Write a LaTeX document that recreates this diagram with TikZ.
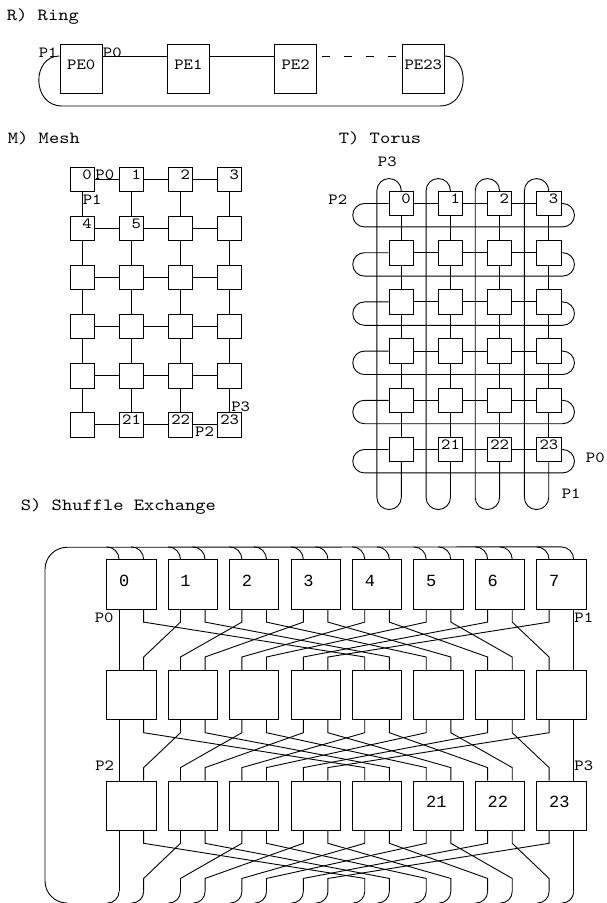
\documentclass[tikz,border=0pt]{standalone}
\usepackage{fontspec}
\setmainfont{lmmono10-regular}[Extension=.otf, FakeStretch=1.15]
\newfontfamily\boxfont{Liberation Mono}
\usetikzlibrary{positioning}

\begin{document}
\begin{tikzpicture}[x=1pt, y=-1pt, line width=0.9pt,
    every node/.style={inner sep=0pt},
    title/.style={anchor=base west, font=\fontsize{17}{20}\selectfont},
    port/.style={font=\fontsize{15.5}{18}\selectfont},
    pe/.style={draw, fill=white, minimum width=42.5pt, minimum height=49.3pt, text height=10pt, text depth=8.8pt, font=\fontsize{15.5}{18}\selectfont},
    cell/.style={draw, fill=white, minimum size=24.5pt, text width=19pt, align=right, text height=10pt, text depth=10pt, font=\fontsize{15.5}{18}\selectfont},
    sebox/.style={draw, fill=white, minimum size=49.3pt, text width=24.6pt, align=left, text height=12pt, text depth=9pt, font=\boxfont\fontsize{17}{20}\selectfont},
  ]
    \useasboundingbox (0,0) rectangle (606,903);

    % ring
    \node[title] (ringtitle) at (6.5,20.7) {R) Ring};
    \node[pe] (pe0) at (81.2,68.7) {PE0};
    \node[pe, right=63.8pt of pe0] (pe1) {PE1};
    \node[pe, right=63.8pt of pe1] (pe2) {PE2};
    \node[pe, right=84.3pt of pe2] (pe23) {PE23};
    \coordinate (ringy) at (0,56);
    \draw (pe0.east |- ringy) -- (pe1.west |- ringy);
    \draw (pe1.east |- ringy) -- (pe2.west |- ringy);
    \draw[dash pattern=on 8pt off 14pt, dash phase=17pt] (pe2.east |- ringy) -- (pe23.west |- ringy);
    \draw (pe0.west |- ringy) .. controls (31.5,56) and (31.5,106) .. (62,106) -- (440,106) .. controls (470,106) and (470,56) .. (pe23.east |- ringy);
    \node[port, anchor=base east] (ringp1) at (58,57) {P1};
    \node[port, anchor=base west] (ringp0) at (102.5,57) {P0};

    % mesh
    \node[title] (meshtitle) at (7.5,143.3) {M) Mesh};
    \foreach \row in {0,...,5}
      \foreach \col in {0,...,3} {
        \pgfmathtruncatemacro\n{4*\row+\col}
        \ifnum\n<6 \edef\txt{\n}\else\ifnum\n>20 \edef\txt{\n}\else\def\txt{}\fi\fi
        \node[cell] (m-\row-\col) at (82.3+49.1*\col, 179.5+49.06*\row) {\txt};
      }
    \foreach \row in {0,...,5}
      \foreach \col [count=\nxt] in {0,1,2}
        \draw (m-\row-\col) -- (m-\row-\nxt);
    \foreach \col in {0,...,3}
      \foreach \row [count=\nxt] in {0,...,4}
        \draw (m-\row-\col) -- (m-\nxt-\col);
    \node[port, anchor=base west] (mp0) at (m-0-0.east) {P0};
    \node[port, below right=2.5pt and 0pt of m-0-0.south] (mp1) {P1};
    \node[port, below right=2pt and 1.5pt of m-5-2.east] (mp2) {P2};
    \node[port, above right=0pt and 1.3pt of m-5-3.north] (mp3) {P3};

    % torus
    \node[title] (torustitle) at (338.5,143.3) {T) Torus};
    \foreach \row in {0,...,5}
      \foreach \col in {0,...,3} {
        \pgfmathtruncatemacro\n{4*\row+\col}
        \ifnum\n<4 \edef\txt{\n}\else\ifnum\n>20 \edef\txt{\n}\else\def\txt{}\fi\fi
        \node[cell] (t-\row-\col) at (401.3+49.15*\col, 203.5+49.2*\row) {\txt};
      }
    \foreach \row in {0,...,5}
      \foreach \col [count=\nxt] in {0,1,2}
        \draw (t-\row-\col) -- (t-\row-\nxt);
    \foreach \col in {0,...,3}
      \foreach \row [count=\nxt] in {0,...,4}
        \draw (t-\row-\col) -- (t-\nxt-\col);
    \foreach \row in {0,...,5}
      \draw[rounded corners=11.7pt] (t-\row-3.east) -- ++(13,0) -- ++(0,23.4) -- ++(-221.7,0) -- ++(0,-23.4) -- (t-\row-0.west);
    \foreach \col in {0,...,3}
      \draw[rounded corners=12.2pt] (t-0-\col.north) -- ++(0,-12.25) -- ++(-24.4,0) -- ++(0,331) -- ++(24.4,0) -- (t-5-\col.south);
    \node[port, anchor=base west] (tp3) at (377.5,166.7) {P3};
    \node[port, anchor=base west] (tp2) at (328,204) {P2};
    \node[port, anchor=base west] (tp0) at (585.5,462.7) {P0};
    \node[port, anchor=base west] (tp1) at (561.3,498.3) {P1};

    % shuffle exchange
    \node[title] (setitle) at (20.5,510) {S) Shuffle Exchange};
    \foreach \row in {0,1,2}
      \foreach \col in {0,...,7} {
        \ifnum\row=0 \edef\txt{\col}\else\def\txt{}\fi
        \ifnum\row=2 \ifnum\col>4 \pgfmathtruncatemacro\txt{16+\col}\fi\fi
        \node[sebox] (s-\row-\col) at (131.35+61.43*\col, 584.5+110.6*\row) {\txt};
      }
    \foreach \col in {0,...,7}
      \coordinate (s-3-\col) at (131.35+61.43*\col, 891.45);
    \foreach \row [count=\nxt] in {0,1,2}
      \foreach \p in {0,...,15} {
        \pgfmathtruncatemacro\src{div(\p,2)}
        \pgfmathsetmacro\srcx{24.6*mod(\p,2)-12.3}
        \pgfmathtruncatemacro\dst{(mod(\p,2)==0) ? (\p/2) : (8+(\p-1)/2)}
        \pgfmathtruncatemacro\dstbox{div(\dst,2)}
        \pgfmathsetmacro\dstx{24.6*mod(\dst,2)-12.3}
        \draw ([xshift=\srcx pt]s-\row-\src.south) -- ++(0,12.5) -- ([xshift=\dstx pt, yshift=13pt]s-\nxt-\dstbox.north) -- ([xshift=\dstx pt]s-\nxt-\dstbox.north);
      }
    \coordinate (sewraptop) at (45,547.3);
    \coordinate (sewrapbot) at (45,903);
    \draw[rounded corners=22pt] ([xshift=-0.2pt, yshift=12.55pt]s-0-7.north) -- (sewraptop) -- (sewrapbot) -- ++(22,0);
    \foreach \col in {0,...,7}
      \foreach \side in {-12.3,12.3} {
        \draw[rounded corners=12.5pt] ([xshift=\side pt]s-0-\col.north) -- ++(0,-12.55) -- ++(-12.5,0);
        \draw[rounded corners=11.5pt] ([xshift=\side pt]s-3-\col) -- ++(0,11.55) -- ++(-12,0);
      }
    \node[port, anchor=base east] (sp0) at (114,622.7) {P0};
    \node[port, anchor=base west] (sp1) at (574,622.7) {P1};
    \node[port, anchor=base east] (sp2) at (114.5,770) {P2};
    \node[port, anchor=base west] (sp3) at (574,770) {P3};
\end{tikzpicture}
\end{document}
